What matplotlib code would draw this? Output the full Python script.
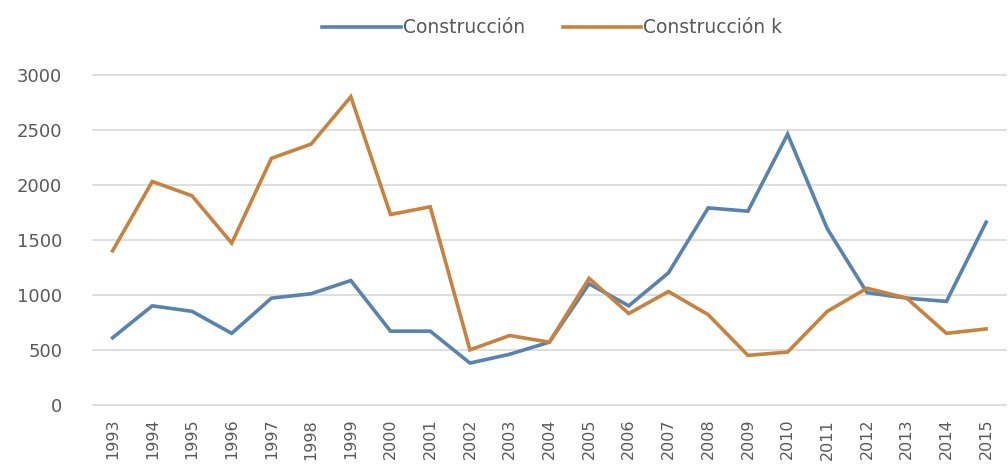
import matplotlib.pyplot as plt

years = [str(y) for y in range(1993, 2016)]
construccion = [610, 900, 850, 650, 970, 1010, 1130, 670, 670, 380, 460, 570,
                1100, 900, 1200, 1790, 1760, 2460, 1600, 1020, 970, 940, 1660]
construccion_k = [1400, 2030, 1900, 1470, 2240, 2370, 2800, 1730, 1800, 500, 630, 570,
                  1150, 830, 1030, 820, 450, 480, 850, 1060, 970, 650, 690]
y_ticks = [0, 500, 1000, 1500, 2000, 2500, 3000]

blue = "#5683B0"
orange = "#C8823E"
text_gray = "#595959"

fig = plt.figure(figsize=(10.08, 4.67), dpi=100)
ax = fig.add_axes([0.092, 0.133, 0.906, 0.707])

x = range(len(years))
ax.plot(x, construccion, color=blue, lw=2.6, label="Construcción",
        solid_joinstyle="miter", clip_on=False)
ax.plot(x, construccion_k, color=orange, lw=2.6, label="Construcción k",
        solid_joinstyle="miter", clip_on=False)

# Axis setup
ax.set_xlim(-0.5, len(years) - 0.5)
ax.set_ylim(0, 3000)
ax.set_yticks(y_ticks)
ax.set_xticks(list(x))
ax.set_xticklabels(years, rotation=90)
ax.yaxis.grid(True, color="#D9D9D9", lw=1.2)
for gl in ax.get_ygridlines():
    gl.set_clip_on(False)
ax.set_axisbelow(True)
for s in ax.spines.values():
    s.set_visible(False)
ax.tick_params(axis="y", length=0, colors=text_gray, labelsize=13, pad=22)
ax.tick_params(axis="x", length=0, colors=text_gray, labelsize=11.5, pad=10)

fig.legend(loc="upper center", bbox_to_anchor=(0.548, 0.997), ncol=2, frameon=False,
           fontsize=13.5, handlelength=4.2, handletextpad=0.1, columnspacing=2.0,
           labelcolor=text_gray)

fig.savefig("out.png")
